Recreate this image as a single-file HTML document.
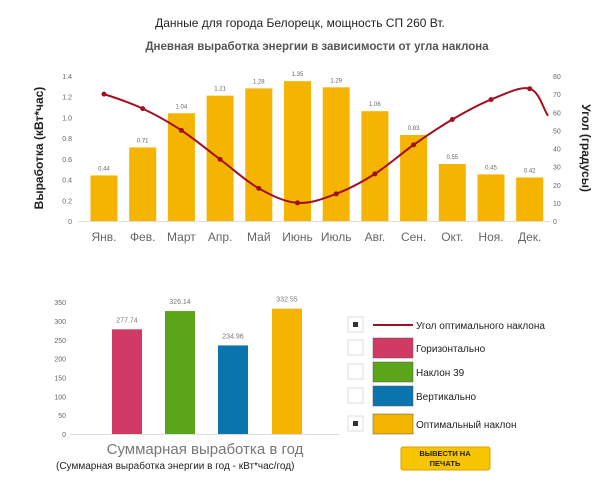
<!DOCTYPE html>
<html><head><meta charset="utf-8"><style>
body{margin:0;background:#fff;width:600px;height:482px;overflow:hidden;font-family:"Liberation Sans",sans-serif}
</style></head><body>
<svg id="s" width="600" height="482" xmlns="http://www.w3.org/2000/svg" font-family="Liberation Sans, sans-serif">
<text x="300" y="27" font-size="12" text-anchor="middle" fill="#222">Данные для города Белорецк, мощность СП 260 Вт.</text>
<text x="317" y="50" font-size="11.5" font-weight="bold" text-anchor="middle" fill="#555">Дневная выработка энергии в зависимости от угла наклона</text>
<text transform="translate(43,148) rotate(-90)" font-size="12" font-weight="bold" text-anchor="middle" fill="#222">Выработка (кВт*час)</text>
<text transform="translate(582,148) rotate(90)" font-size="12" font-weight="bold" text-anchor="middle" fill="#222">Угол (градусы)</text>
<line x1="78" y1="221.5" x2="550" y2="221.5" stroke="#ddd"/>
<g id="topg"></g>
<path id="ln" fill="none" stroke="#a01020" stroke-width="2"/>
<g id="dots"></g>
<g id="bot"></g>
<line x1="70" y1="434.5" x2="340" y2="434.5" stroke="#ddd"/>
<text x="205" y="454" font-size="15" text-anchor="middle" fill="#777">Суммарная выработка в год</text>
<text x="56" y="469" font-size="10" fill="#222">(Суммарная выработка энергии в год - кВт*час/год)</text>
<g font-size="10" fill="#222">
<rect x="348" y="317" width="15" height="15" fill="#fff" stroke="#ddd"/><rect x="353" y="322" width="5" height="5" fill="#333"/>
<line x1="373" y1="325" x2="413" y2="325" stroke="#a01020" stroke-width="2"/><text x="416" y="329">Угол оптимального наклона</text>
<rect x="348" y="340" width="15" height="15" fill="#fff" stroke="#ddd"/><rect x="373" y="338" width="40" height="20" fill="#d23a66" stroke="#555" stroke-width="0.5"/><text x="416" y="352">Горизонтально</text>
<rect x="348" y="364" width="15" height="15" fill="#fff" stroke="#ddd"/><rect x="373" y="362" width="40" height="20" fill="#5ba51a" stroke="#555" stroke-width="0.5"/><text x="416" y="376">Наклон 39</text>
<rect x="348" y="388" width="15" height="15" fill="#fff" stroke="#ddd"/><rect x="373" y="386" width="40" height="20" fill="#0a74ad" stroke="#555" stroke-width="0.5"/><text x="416" y="400">Вертикально</text>
<rect x="348" y="416" width="15" height="15" fill="#fff" stroke="#ddd"/><rect x="353" y="421" width="5" height="5" fill="#333"/><rect x="373" y="414" width="40" height="20" fill="#f5b400" stroke="#555" stroke-width="0.5"/><text x="416" y="428">Оптимальный наклон</text>
</g>
<rect x="401" y="447" width="89" height="23" rx="2" fill="#f7c400" stroke="#d9a000"/>
<text x="445" y="456" font-size="7.5" font-weight="bold" text-anchor="middle" fill="#222">ВЫВЕСТИ НА</text>
<text x="445" y="466" font-size="7.5" font-weight="bold" text-anchor="middle" fill="#222">ПЕЧАТЬ</text>
</svg>
<script>
(function(){
var NS="http://www.w3.org/2000/svg";
function el(p,t,a,txt){var e=document.createElementNS(NS,t);for(var k in a)e.setAttribute(k,a[k]);if(txt!=null)e.textContent=txt;p.appendChild(e);return e;}
var tg=document.getElementById('topg'),dg=document.getElementById('dots');
var v=[.44,.71,1.04,1.21,1.28,1.35,1.29,1.06,.83,.55,.45,.42];
var m=["Янв.","Фев.","Март","Апр.","Май","Июнь","Июль","Авг.","Сен.","Окт.","Ноя.","Дек."];
var ang=[70,62,50,34,18,10,15,26,42,56,67,73];
for(var i=0;i<=7;i++){var yy=221-i*0.2*103.6;el(tg,'text',{x:72,y:yy+3,'font-size':7,'text-anchor':'end',fill:'#666'},(i==0?'0':(i*0.2).toFixed(1)));}
for(var i=0;i<=8;i++){var yy=221-i*10*1.8125;el(tg,'text',{x:553,y:yy+3,'font-size':7,fill:'#666'},String(i*10));}
var pts=[];
for(var i=0;i<12;i++){var cx=104+38.7*i,h=v[i]*103.6;
el(tg,'rect',{x:cx-13.5,y:221-h,width:27,height:h,fill:'#f5b400'});
el(tg,'text',{x:cx,y:221-h-5,'font-size':6,'text-anchor':'middle',fill:'#666'},v[i].toFixed(2));
el(tg,'text',{x:cx,y:241,'font-size':12,'text-anchor':'middle',fill:'#666'},m[i]);
pts.push([cx,221-ang[i]*1.8125]);}
pts.push([548,221-58*1.8125]);
var P=[[pts[0][0]-38.7,pts[0][1]-10]].concat(pts).concat([[560,135]]);
var d="M"+pts[0][0]+","+pts[0][1];
for(var i=1;i<P.length-2;i++){var p0=P[i-1],p1=P[i],p2=P[i+1],p3=P[i+2];
d+=" C"+(p1[0]+(p2[0]-p0[0])/6)+","+(p1[1]+(p2[1]-p0[1])/6)+" "+(p2[0]-(p3[0]-p1[0])/6)+","+(p2[1]-(p3[1]-p1[1])/6)+" "+p2[0]+","+p2[1];}
document.getElementById('ln').setAttribute('d',d);
for(var i=0;i<12;i++)el(dg,'circle',{cx:pts[i][0],cy:pts[i][1],r:2.5,fill:'#a01020'});
var bot=document.getElementById('bot');
for(var i=0;i<=7;i++){var yy=434-i*50*0.377;el(bot,'text',{x:66,y:yy+3,'font-size':7,'text-anchor':'end',fill:'#666'},String(i*50));}
var bv=[277.74,326.14,234.96,332.55],bc=['#d23a66','#5ba51a','#0a74ad','#f5b400'],bx=[112,165,218,272];
for(var i=0;i<4;i++){var h=bv[i]*0.377;el(bot,'rect',{x:bx[i],y:434-h,width:30,height:h,fill:bc[i]});
el(bot,'text',{x:bx[i]+15,y:434-h-7,'font-size':7,'text-anchor':'middle',fill:'#777'},bv[i].toFixed(2));}
})();
</script>
</body></html>
